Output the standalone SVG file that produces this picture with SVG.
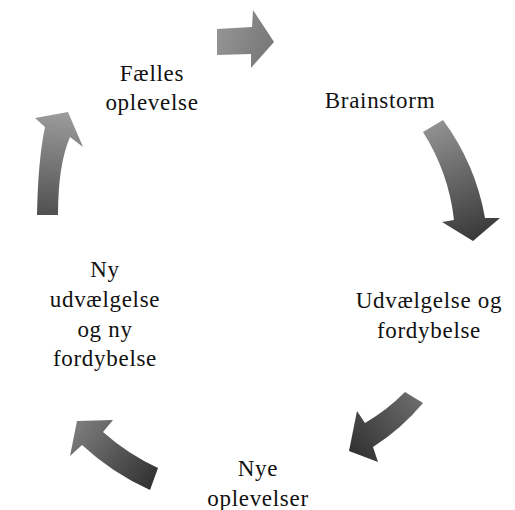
<svg xmlns="http://www.w3.org/2000/svg" width="515" height="510" viewBox="0 0 515 510">
<style>
text { font-family: "Liberation Serif", "DejaVu Serif", serif; font-size: 23px; letter-spacing: 0.7px; fill: #111111; text-anchor: middle; }
</style>
<defs>
<linearGradient id="g1" gradientUnits="userSpaceOnUse" x1="217" y1="30" x2="274" y2="50"><stop offset="0" stop-color="#959595"/><stop offset="1" stop-color="#767676"/></linearGradient>
<linearGradient id="g2" gradientUnits="userSpaceOnUse" x1="430" y1="120" x2="475" y2="240"><stop offset="0" stop-color="#959595"/><stop offset="1" stop-color="#383838"/></linearGradient>
<linearGradient id="g3" gradientUnits="userSpaceOnUse" x1="420" y1="395" x2="350" y2="455"><stop offset="0" stop-color="#6e6e6e"/><stop offset="1" stop-color="#303030"/></linearGradient>
<linearGradient id="g4" gradientUnits="userSpaceOnUse" x1="80" y1="425" x2="158" y2="485"><stop offset="0" stop-color="#7a7a7a"/><stop offset="1" stop-color="#2e2e2e"/></linearGradient>
<linearGradient id="g5" gradientUnits="userSpaceOnUse" x1="60" y1="112" x2="48" y2="215"><stop offset="0" stop-color="#9c9c9c"/><stop offset="1" stop-color="#505050"/></linearGradient>
</defs>
<g id="connectors">
<path d="M217,29 L252,27 L253,10 L274,42 L251,68 L251,54 L217,55 Z" fill="url(#g1)"/>
<path d="M423,132 L443,120 A233 233 0 0 1 485,218 L500,218 L473,241 L442,222 L454,220 A207 207 0 0 0 423,132 Z" fill="url(#g2)"/>
<path d="M405,392 L423,403 A215 215 0 0 1 373,447 L378,462 L349,451 L357,411 L365,423 A193 193 0 0 0 405,392 Z" fill="url(#g3)"/>
<path d="M158,468 A226 226 0 0 1 103,432 L113,420 L77,421 L70,456 L82,445 A251 251 0 0 0 150,490 Z" fill="url(#g4)"/>
<path d="M37,215 Q38,160 45,127 L35,118 L68,112 L83,147 L70,137 Q58,165 58,215 Z" fill="url(#g5)"/>
</g>
<g id="node-faelles"><text x="152" y="81">Fælles</text><text x="152" y="110">oplevelse</text></g>
<g id="node-brainstorm"><text x="380" y="108">Brainstorm</text></g>
<g id="node-udvaelgelse"><text x="429" y="308">Udvælgelse og</text><text x="429" y="338">fordybelse</text></g>
<g id="node-nye"><text x="258" y="476">Nye</text><text x="258" y="506">oplevelser</text></g>
<g id="node-ny"><text x="105" y="277">Ny</text><text x="105" y="307">udvælgelse</text><text x="105" y="337">og ny</text><text x="105" y="366">fordybelse</text></g>
</svg>
